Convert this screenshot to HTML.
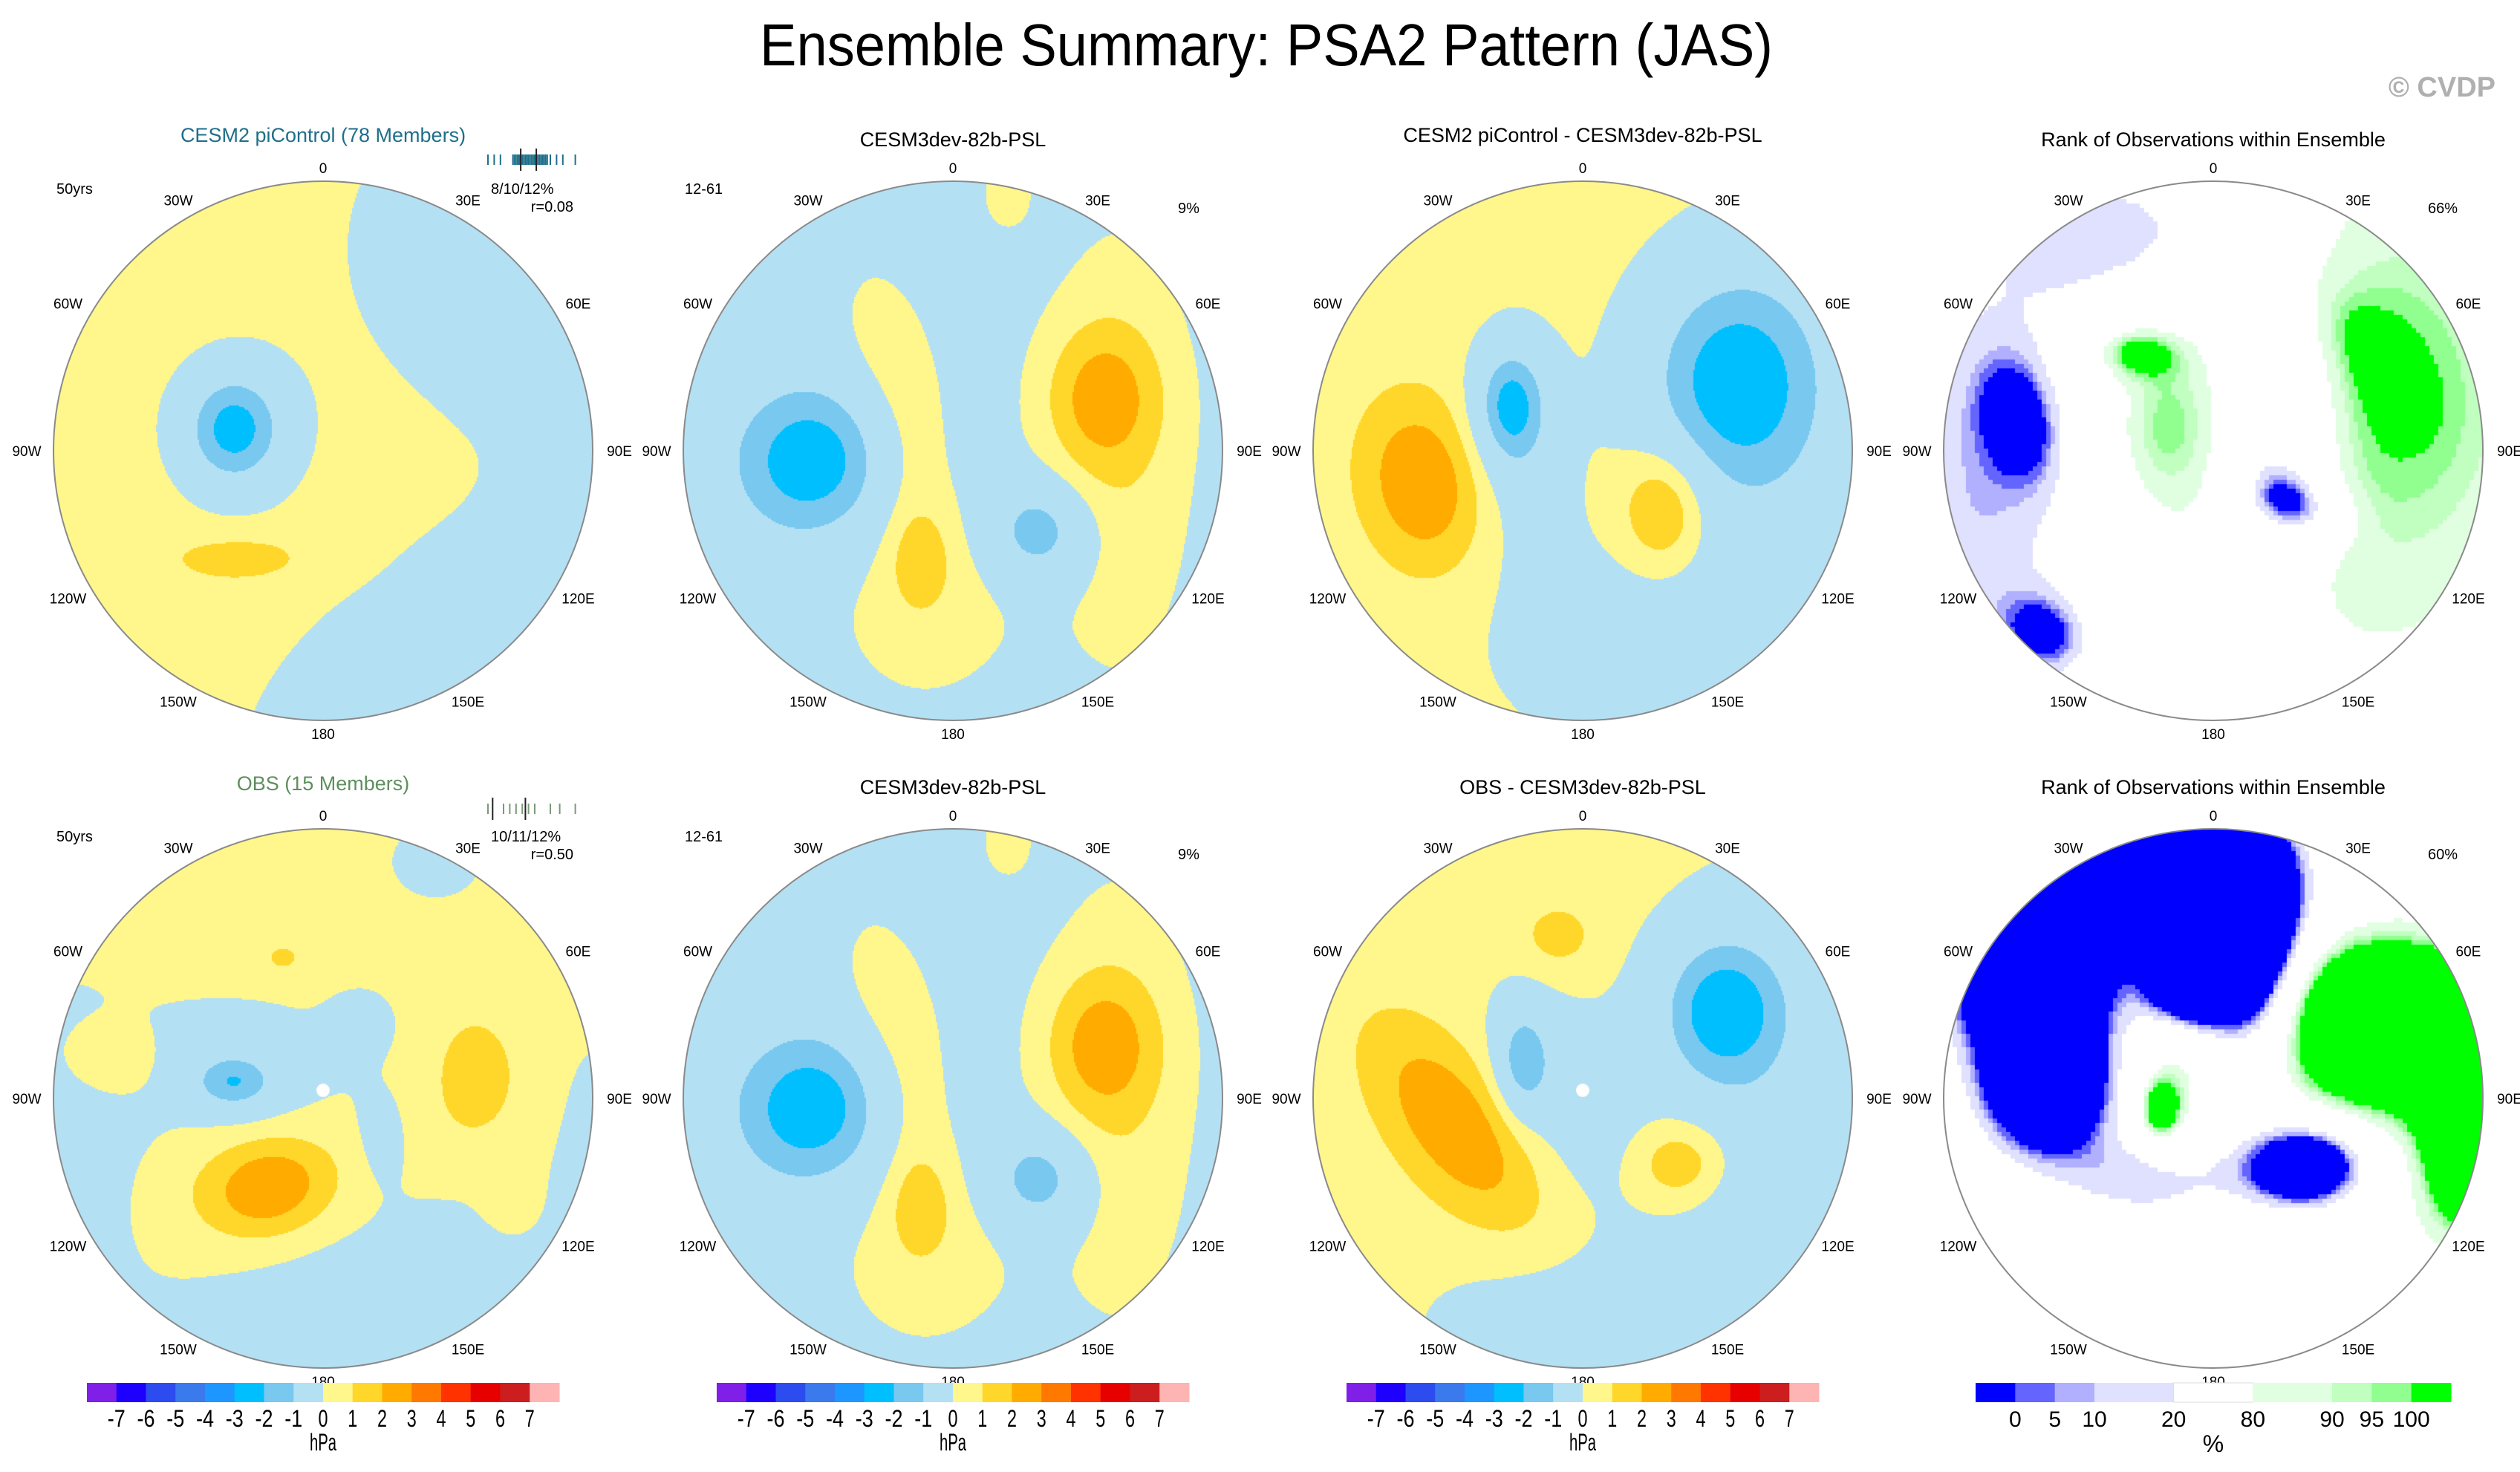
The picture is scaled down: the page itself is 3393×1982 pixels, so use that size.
<!DOCTYPE html>
<html><head><meta charset="utf-8"><title>Ensemble Summary: PSA2 Pattern (JAS)</title>
<style>
html,body{margin:0;padding:0;background:#fff;}
#root{position:relative;width:3393px;height:1982px;overflow:hidden;background:#fff;font-family:"Liberation Sans",sans-serif;}
canvas{position:absolute;}
#overlay{position:absolute;left:0;top:0;}
</style></head>
<body>
<div id="root">
<canvas id="c1"></canvas>
<canvas id="c2"></canvas>
<canvas id="c3"></canvas>
<canvas id="c4"></canvas>
<canvas id="c5"></canvas>
<canvas id="c6"></canvas>
<canvas id="c7"></canvas>
<canvas id="c8"></canvas>
<svg id="overlay" width="3393" height="1982" xmlns="http://www.w3.org/2000/svg">
<text x="1705" y="88" font-size="80" text-anchor="middle" textLength="1364" lengthAdjust="spacingAndGlyphs" font-family="Liberation Sans, sans-serif">Ensemble Summary: PSA2 Pattern (JAS)</text>
<text x="3360" y="130" font-size="38" text-anchor="end" fill="#b0b0b0" font-weight="bold" font-family="Liberation Sans, sans-serif">© CVDP</text>
<g font-family="Liberation Sans, sans-serif" font-size="27" text-anchor="middle">
<text x="435" y="191" fill="#1f6f8b">CESM2 piControl (78 Members)</text>
<text x="1283" y="197">CESM3dev-82b-PSL</text>
<text x="2131" y="191">CESM2 piControl - CESM3dev-82b-PSL</text>
<text x="2980" y="197">Rank of Observations within Ensemble</text>
<text x="435" y="1064" fill="#5e8f5e">OBS (15 Members)</text>
<text x="1283" y="1069">CESM3dev-82b-PSL</text>
<text x="2131" y="1069">OBS - CESM3dev-82b-PSL</text>
<text x="2980" y="1069">Rank of Observations within Ensemble</text>
</g>
<g font-family="Liberation Sans, sans-serif" font-size="20">
<text x="76" y="261">50yrs</text>
<text x="76" y="1133">50yrs</text>
<text x="922" y="261">12-61</text>
<text x="922" y="1133">12-61</text>
<text x="1586" y="287">9%</text>
<text x="1586" y="1157">9%</text>
<text x="3269" y="287">66%</text>
<text x="3269" y="1157">60%</text>
<text x="661" y="261">8/10/12%</text>
<text x="772" y="285" text-anchor="end">r=0.08</text>
<text x="661" y="1133">10/11/12%</text>
<text x="772" y="1157" text-anchor="end">r=0.50</text>
</g>
<g id="dyn"></g>
</svg>
</div>
<script>
// ---- data ----
const panelCentersX = [435, 1283, 2131, 2980, 435, 1283, 2131, 2980];
const panelCentersY = [607, 607, 607, 607, 1479, 1479, 1479, 1479];
const lonLabels = ["0","30E","60E","90E","120E","150E","180","150W","120W","90W","60W","30W"];
const anomLevels = [-7,-6,-5,-4,-3,-2,-1,0,1,2,3,4,5,6,7];
const anomColors = ["#7f1fe8","#1e00ff","#2d4cef","#3a7aed","#1e96ff","#00bfff","#78c8f0","#b4e0f4","#fff68c","#ffd62a","#ffab00","#ff7800","#ff3200","#e60000","#cc1e1e","#ffb4b4"];
const rankLevels = [0,5,10,20,80,90,95,100];
const rankColors = ["#0000ff","#6464ff","#b0b0ff","#e0e0ff","#ffffff","#e0ffe0","#c0ffc0","#90ff90","#00ff00"];
const rankWidths = [1,1,1,2,2,2,1,1,1];

// blob rows: [u, v, amplitude, sigmaA, sigmaB, angleDeg]
const cesm2Base = 0.5;
const cesm2Blobs = [[-0.33,-0.08,-4.0,0.14,0.16,0],[-0.30,0.40,1.0,0.20,0.07,0],[0.88,-0.75,-1.4,0.55,0.48,0],[0.55,0.85,-1.4,0.65,0.36,-30],[1.12,0.20,-1.0,0.18,0.25,0]];
const cesm3Base = -0.5;
const cesm3Blobs = [[-0.53,0.04,-3.3,0.21,0.21,0],[0.55,-0.20,2.2,0.15,0.19,0],[0.62,0.0,1.2,0.2,0.6,0],[0.32,0.30,-2.5,0.13,0.13,0],[-0.10,0.55,1.0,0.25,0.28,0],[-0.12,0.40,1.2,0.08,0.13,0],[-0.25,-0.35,1.0,0.12,0.25,-10],[-0.15,0.05,0.9,0.10,0.25,0],[0.20,-0.95,0.9,0.07,0.10,0]];
const diffTopBase = 0.4;
const diffTopBlobs = [[0.55,-0.26,-3.7,0.24,0.30,0],[0.78,0.10,-1.0,0.25,0.7,0],[0.25,0.72,-1.2,0.40,0.28,0],[-0.60,0.12,2.6,0.15,0.22,-10],[-0.27,-0.17,-3.4,0.095,0.16,0],[-0.20,0.05,-1.0,0.12,0.30,0],[0.30,0.22,2.3,0.11,0.16,0]];
const obsBase = 0.4;
const obsBlobs = [[0.20,0.85,-1.5,0.65,0.35,-15],[-0.35,-0.10,-1.0,0.35,0.20,0],[-0.33,-0.06,-2.6,0.11,0.075,0],[-0.95,0.20,-1.2,0.20,0.40,0],[-0.80,-0.13,1.2,0.14,0.11,0],[0.15,-0.28,-0.8,0.09,0.09,0],[0.22,0.15,-0.8,0.07,0.13,0],[0.42,-0.88,-1.0,0.12,0.10,0],[1.00,0.25,-1.0,0.08,0.30,0],[0.56,-0.05,1.0,0.15,0.23,0],[-0.20,0.33,2.2,0.15,0.115,-15],[-0.20,0.35,0.8,0.35,0.22,0],[-0.15,-0.52,0.9,0.06,0.045,0],[0.70,0.40,0.7,0.08,0.10,0]];
const diffBotBase = 0.4;
const diffBotBlobs = [[0.52,-0.33,-3.5,0.17,0.20,0],[0.70,0.0,-1.2,0.30,0.60,0],[0.10,0.85,-1.3,0.45,0.20,0],[0.75,0.60,-1.0,0.20,0.30,0],[-0.05,0.0,-1.2,0.18,0.30,-30],[-0.22,-0.14,-2.6,0.07,0.14,0],[-0.47,0.10,2.6,0.30,0.15,53],[0.36,0.24,2.0,0.13,0.11,0],[-0.09,-0.60,1.1,0.10,0.09,0]];
const rankTopBase = 50;
const rankTopBlobs = [[-0.25,-0.80,-45,0.40,0.25,0],[-0.85,0.15,-42,0.30,0.60,0],[-0.72,-0.12,-40,0.10,0.17,-15],[-0.62,0.68,-45,0.12,0.10,35],[0.25,-0.05,-60,0.14,0.30,0],[0.30,0.20,-55,0.13,0.08,20],[0.60,-0.20,48,0.60,0.90,0],[0.62,-0.30,8,0.22,0.33,-30],[0.61,-0.34,14,0.07,0.16,-35],[-0.30,-0.37,45,0.12,0.07,0],[-0.20,-0.10,32,0.15,0.25,0]];
const rankBotBase = 50;
const rankBotBlobs = [[-0.25,-0.75,-120,0.35,0.22,0],[0.15,-0.60,-100,0.12,0.30,0],[-0.05,-0.45,-80,0.12,0.12,0],[-0.10,-0.55,-80,0.10,0.15,0],[-0.62,-0.05,-110,0.17,0.18,0],[-0.70,-0.45,-100,0.20,0.20,0],[-0.27,-0.52,30,0.14,0.10,0],[0.36,0.25,-110,0.17,0.12,0],[-0.22,0.30,-40,0.25,0.12,0],[0.60,-0.30,100,0.25,0.20,0],[0.93,0.05,100,0.10,0.28,0],[0.65,0.00,35,0.35,0.50,0],[-0.15,-0.05,35,0.10,0.18,0],[-0.20,0.05,60,0.05,0.08,0]];

const R = 363;
const panels = [
  {id:'c1', base:cesm2Base, blobs:cesm2Blobs, kind:'anom', dot:false},
  {id:'c2', base:cesm3Base, blobs:cesm3Blobs, kind:'anom', dot:false},
  {id:'c3', base:diffTopBase, blobs:diffTopBlobs, kind:'anom', dot:false},
  {id:'c4', base:rankTopBase, blobs:rankTopBlobs, kind:'rank', dot:false},
  {id:'c5', base:obsBase, blobs:obsBlobs, kind:'anom', dot:true},
  {id:'c6', base:cesm3Base, blobs:cesm3Blobs, kind:'anom', dot:false},
  {id:'c7', base:diffBotBase, blobs:diffBotBlobs, kind:'anom', dot:true},
  {id:'c8', base:rankBotBase, blobs:rankBotBlobs, kind:'rank', dot:false}
];

function hexRgb(h){return [parseInt(h.substr(1,2),16),parseInt(h.substr(3,2),16),parseInt(h.substr(5,2),16)];}
function fieldAt(base, blobs, u, v){
  let s = base;
  for (const b of blobs){
    const a = b[5]*Math.PI/180, c = Math.cos(a), sn = Math.sin(a);
    const dx = u-b[0], dy = v-b[1];
    const p = (dx*c+dy*sn)/b[3], q = (-dx*sn+dy*c)/b[4];
    s += b[2]*Math.exp(-0.5*(p*p+q*q));
  }
  return s;
}
function anomIndex(val){
  if (val < 0) val = Math.min(val+1, -1e-6);
  let i=0;while(i<anomLevels.length && val>=anomLevels[i]) i++;return i;
}
function rankIndex(val){let i=0;while(i<rankLevels.length && val>=rankLevels[i]) i++;return i;}

const anomRgb = anomColors.map(hexRgb), rankRgb = rankColors.map(hexRgb);
panels.forEach((p, k) => {
  const cv = document.getElementById(p.id);
  const size = 2*R;
  cv.width = size; cv.height = size;
  cv.style.left = (panelCentersX[k]-R)+'px';
  cv.style.top = (panelCentersY[k]-R)+'px';
  const ctx = cv.getContext('2d');
  const img = ctx.createImageData(size, size);
  const cell = p.kind === 'rank' ? 6 : 2;
  for (let y=0; y<size; y+=cell){
    for (let x=0; x<size; x+=cell){
      const u = (x+cell/2-R)/R, v = (y+cell/2-R)/R;
      const val = fieldAt(p.base, p.blobs, u, v);
      const col = p.kind==='rank' ? rankRgb[rankIndex(val)] : anomRgb[anomIndex(val)];
      for (let yy=y; yy<Math.min(y+cell,size); yy++){
        for (let xx=x; xx<Math.min(x+cell,size); xx++){
          const uu=(xx+0.5-R)/R, vv=(yy+0.5-R)/R;
          if (uu*uu+vv*vv>1) continue;
          const o=(yy*size+xx)*4;
          img.data[o]=col[0]; img.data[o+1]=col[1]; img.data[o+2]=col[2]; img.data[o+3]=255;
        }
      }
    }
  }
  ctx.putImageData(img,0,0);
  if (p.dot){
    ctx.fillStyle='#fff';
    ctx.beginPath(); ctx.arc(R, R-0.03*R, 9, 0, 2*Math.PI); ctx.fill();
  }
});

// ---- overlay ----
const NS='http://www.w3.org/2000/svg';
const dyn=document.getElementById('dyn');
function mk(tag, attrs, parent){const e=document.createElementNS(NS,tag);for(const k in attrs)e.setAttribute(k,attrs[k]);(parent||dyn).appendChild(e);return e;}

panelCentersX.forEach((cx, k) => {
  const cy = panelCentersY[k];
  const circ = mk('circle',{cx:cx,cy:cy,r:R,fill:'none',stroke:'#8a8a8a','stroke-width':2});
  
  
  lonLabels.forEach((lab, i) => {
    const a = i*30*Math.PI/180;
    const off = 18 + 18*Math.abs(Math.sin(a));
    const t = mk('text',{x:cx+(R+off)*Math.sin(a), y:cy-(R+off)*Math.cos(a)+7,'font-size':19,'text-anchor':'middle','font-family':'Liberation Sans, sans-serif'});
    t.textContent = lab;
    
    
  });
});

// spread tick strips
const cesm2Ticks = [0,4,8,16,17,18,19,20,21,22,23,24,25,26,27,28,29,30,31,32,33,34,35,36,37,38,40,44,48,56];
const obsTicks = [0,10,14,18,22,26,30,40,46,56];
function tickStrip(ticks, x0, scale, y, h, color, marks){
  const g = mk('g',{});
  
  
  ticks.forEach(t => {
    const ln = mk('line',{x1:x0+t*scale,x2:x0+t*scale,y1:y,y2:y+h,stroke:color,'stroke-width':2},g);
    
    
  });
  marks.forEach(t => {
    const ln = mk('line',{x1:x0+t*scale,x2:x0+t*scale,y1:y-8,y2:y+h+8,stroke:'#222','stroke-width':2},g);
    
    
  });
}
tickStrip(cesm2Ticks, 657, 2.1, 208, 14, '#1f6f8b', [21,31]);
tickStrip(obsTicks, 657, 2.1, 1082, 14, '#7a9a7a', [3,24]);

// colorbars
function anomBar(cx){
  const x0 = cx-318, w = 636/anomColors.length;
  anomColors.forEach((c,i) => {
    const r = mk('rect',{x:x0+i*w,y:1862,width:w+0.5,height:26,fill:c});
    
    
  });
  anomLevels.forEach((lv,i) => {
    const s = String(lv);
    const t = mk('text',{x:x0+(i+1)*w,y:1921,'font-size':32,'text-anchor':'middle','font-family':'Liberation Sans, sans-serif',textLength:s.length>1?24:13,lengthAdjust:'spacingAndGlyphs'});
    t.textContent = s;
    
    
  });
  const u = mk('text',{x:cx,y:1953,'font-size':32,'text-anchor':'middle','font-family':'Liberation Sans, sans-serif',textLength:36,lengthAdjust:'spacingAndGlyphs'});
  u.textContent='hPa';
  
  
}
[435,1283,2131].forEach(anomBar);
(function(){
  const cx=2980, x0=cx-320, unit=640/12;
  let x=x0;
  rankColors.forEach((c,i) => {
    const w = rankWidths[i]*unit;
    const r = mk('rect',{x:x,y:1862,width:w+0.5,height:26,fill:c,stroke:i===4?'#ddd':'none','stroke-width':1});
    
    
    x += w;
    if (i < rankLevels.length){
      const t = mk('text',{x:x,y:1921,'font-size':30,'text-anchor':'middle','font-family':'Liberation Sans, sans-serif'});
      t.textContent = String(rankLevels[i]);
      
      
    }
  });
  const u = mk('text',{x:cx,y:1955,'font-size':32,'text-anchor':'middle','font-family':'Liberation Sans, sans-serif'});
  u.textContent='%';
  
  
})();
</script>
</body></html>
